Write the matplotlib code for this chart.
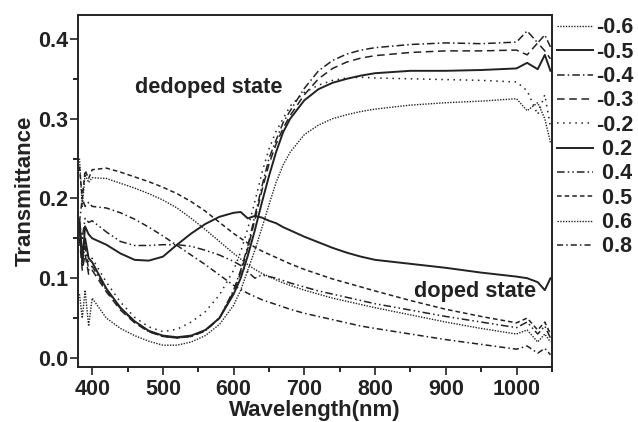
import matplotlib
matplotlib.use("Agg")
import matplotlib.pyplot as plt

plt.rcParams['font.family'] = ['Liberation Sans', 'DejaVu Sans']
plt.rcParams['font.weight'] = 'bold'

wl = [382, 386, 390, 395, 400, 420, 440, 460, 480, 500, 520, 540, 560, 580, 600, 610,
      620, 630, 640, 650, 660, 670, 680, 700, 720, 740, 760, 780, 800, 850, 900, 950,
      1000, 1015, 1030, 1040, 1048]

labels = ['-0.6', '-0.5', '-0.4', '-0.3', '-0.2', ' 0.2', ' 0.4', ' 0.5', ' 0.6', ' 0.8']

t_m06 = [0.08, 0.05, 0.085, 0.04, 0.075, 0.05, 0.037, 0.028, 0.021, 0.016, 0.016, 0.02, 0.028,
         0.042, 0.066, 0.085, 0.11, 0.135, 0.163, 0.192, 0.22, 0.242, 0.258, 0.28, 0.292, 0.3,
         0.305, 0.309, 0.312, 0.317, 0.32, 0.322, 0.325, 0.31, 0.32, 0.30, 0.27]
t_m05 = [0.17, 0.13, 0.15, 0.125, 0.12, 0.087, 0.063, 0.046, 0.034, 0.028, 0.026, 0.028, 0.035,
         0.05, 0.08, 0.10, 0.128, 0.16, 0.195, 0.228, 0.258, 0.283, 0.30, 0.323, 0.337, 0.345,
         0.35, 0.354, 0.357, 0.36, 0.36, 0.361, 0.363, 0.37, 0.362, 0.38, 0.36]
t_m04 = [0.16, 0.12, 0.14, 0.11, 0.115, 0.085, 0.062, 0.045, 0.033, 0.027, 0.025, 0.027, 0.034,
         0.05, 0.085, 0.11, 0.14, 0.178, 0.215, 0.25, 0.273, 0.295, 0.31, 0.338, 0.36, 0.373,
         0.381, 0.386, 0.389, 0.393, 0.395, 0.394, 0.396, 0.41, 0.395, 0.405, 0.39]
t_m03 = [0.15, 0.11, 0.13, 0.105, 0.11, 0.083, 0.06, 0.044, 0.033, 0.027, 0.025, 0.027, 0.034,
         0.05, 0.083, 0.107, 0.137, 0.173, 0.21, 0.243, 0.268, 0.288, 0.304, 0.33, 0.35, 0.363,
         0.371, 0.376, 0.379, 0.383, 0.385, 0.385, 0.386, 0.38, 0.395, 0.385, 0.375]
t_m02 = [0.15, 0.12, 0.14, 0.12, 0.125, 0.095, 0.07, 0.051, 0.039, 0.033, 0.036, 0.045, 0.058,
         0.079, 0.11, 0.133, 0.162, 0.196, 0.232, 0.262, 0.284, 0.30, 0.316, 0.333, 0.342, 0.348,
         0.351, 0.352, 0.351, 0.35, 0.349, 0.348, 0.346, 0.335, 0.305, 0.33, 0.29]
t_p02 = [0.17, 0.12, 0.165, 0.155, 0.15, 0.142, 0.131, 0.123, 0.122, 0.127, 0.142, 0.156, 0.168,
         0.177, 0.182, 0.183, 0.175, 0.178, 0.176, 0.172, 0.169, 0.164, 0.16, 0.152, 0.145, 0.138,
         0.132, 0.127, 0.123, 0.118, 0.113, 0.107, 0.102, 0.10, 0.095, 0.085, 0.10]
t_p04 = [0.17, 0.15, 0.175, 0.17, 0.172, 0.158, 0.146, 0.141, 0.141, 0.142, 0.142, 0.14, 0.135,
         0.129, 0.121, 0.116, 0.108, 0.10, 0.104, 0.102, 0.10, 0.097, 0.094, 0.089, 0.084, 0.08,
         0.076, 0.072, 0.068, 0.06, 0.052, 0.045, 0.038, 0.045, 0.03, 0.04, 0.025]
t_p05 = [0.24, 0.20, 0.235, 0.225, 0.236, 0.238, 0.233, 0.227, 0.221, 0.214, 0.206, 0.196, 0.184,
         0.17, 0.156, 0.15, 0.144, 0.139, 0.134, 0.13, 0.126, 0.122, 0.118, 0.111, 0.105, 0.099,
         0.094, 0.089, 0.084, 0.072, 0.061, 0.052, 0.044, 0.05, 0.035, 0.045, 0.03]
t_p06 = [0.25, 0.19, 0.23, 0.22, 0.226, 0.225, 0.219, 0.213, 0.206, 0.198, 0.188, 0.175, 0.161,
         0.146, 0.131, 0.124, 0.117, 0.111, 0.106, 0.102, 0.098, 0.094, 0.091, 0.085, 0.08, 0.075,
         0.071, 0.067, 0.063, 0.054, 0.045, 0.037, 0.03, 0.035, 0.02, 0.03, 0.02]
t_p08 = [0.17, 0.20, 0.19, 0.195, 0.19, 0.188, 0.182, 0.174, 0.164, 0.153, 0.141, 0.129, 0.117,
         0.104, 0.091, 0.086, 0.081, 0.077, 0.073, 0.07, 0.067, 0.064, 0.061, 0.056, 0.052, 0.048,
         0.044, 0.04, 0.037, 0.03, 0.023, 0.017, 0.011, 0.015, 0.006, 0.012, 0.004]

series = [t_m06, t_m05, t_m04, t_m03, t_m02, t_p02, t_p04, t_p05, t_p06, t_p08]
styles = [(0, (1, 1)), '-', (0, (5, 2, 1, 2)), (0, (5, 3)), (0, (1, 3)),
          '-', (0, (5, 2, 1, 2, 1, 2)), (0, (3, 2)), (0, (1, 1)), (0, (4, 2, 1, 2))]
widths = [1.0, 1.4, 1.1, 1.1, 1.1, 1.4, 1.1, 1.1, 1.0, 1.1]

fig = plt.figure(figsize=(6.38, 4.22), dpi=100)
ax = fig.add_axes([0.1223, 0.131, 0.7427, 0.8335])
col = '#222222'
for y, ls, lw, lab in zip(series, styles, widths, labels):
    ax.plot(wl, y, color=col, linestyle=ls, linewidth=lw, label=lab)

ax.set_xlim(380, 1050)
ax.set_ylim(-0.011, 0.43)
ax.set_xticks([400, 500, 600, 700, 800, 900, 1000])
ax.set_xticks([450, 550, 650, 750, 850, 950, 1050], minor=True)
ax.set_yticks([0.0, 0.1, 0.2, 0.3, 0.4])
ax.set_yticks([0.05, 0.15, 0.25, 0.35], minor=True)
ax.tick_params(axis='both', direction='out', length=5.5, width=1.2, labelsize=15.5,
               colors='#222222')
ax.tick_params(axis='y', pad=1.5)
ax.tick_params(axis='x', pad=3)
ax.tick_params(which='minor', direction='out', length=3.6, width=1.2)
for s in ax.spines.values():
    s.set_linewidth(1.4)
    s.set_color('#222222')
for t in ax.get_xticklabels() + ax.get_yticklabels():
    t.set_fontweight('bold')
ax.set_xlabel('Wavelength(nm)', fontsize=16, fontweight='bold', labelpad=0, color='#222222')
ax.set_ylabel('Transmittance', fontsize=16, fontweight='bold', labelpad=2, color='#222222')

ax.text(565, 0.339, 'dedoped state', ha='center', va='center', fontsize=15.7,
        fontweight='bold', color='#222222')
ax.text(941, 0.083, 'doped state', ha='center', va='center', fontsize=15.7,
        fontweight='bold', color='#222222')

leg = ax.legend(loc='upper left', bbox_to_anchor=(1.0106, 0.993), frameon=False,
                fontsize=15.5, handlelength=1.67, handletextpad=0.14, labelspacing=0.155,
                borderaxespad=0.0, borderpad=0.0)
for t in leg.get_texts():
    t.set_fontweight('bold')
    t.set_color('#222222')

fig.savefig('out.png', dpi=100)
